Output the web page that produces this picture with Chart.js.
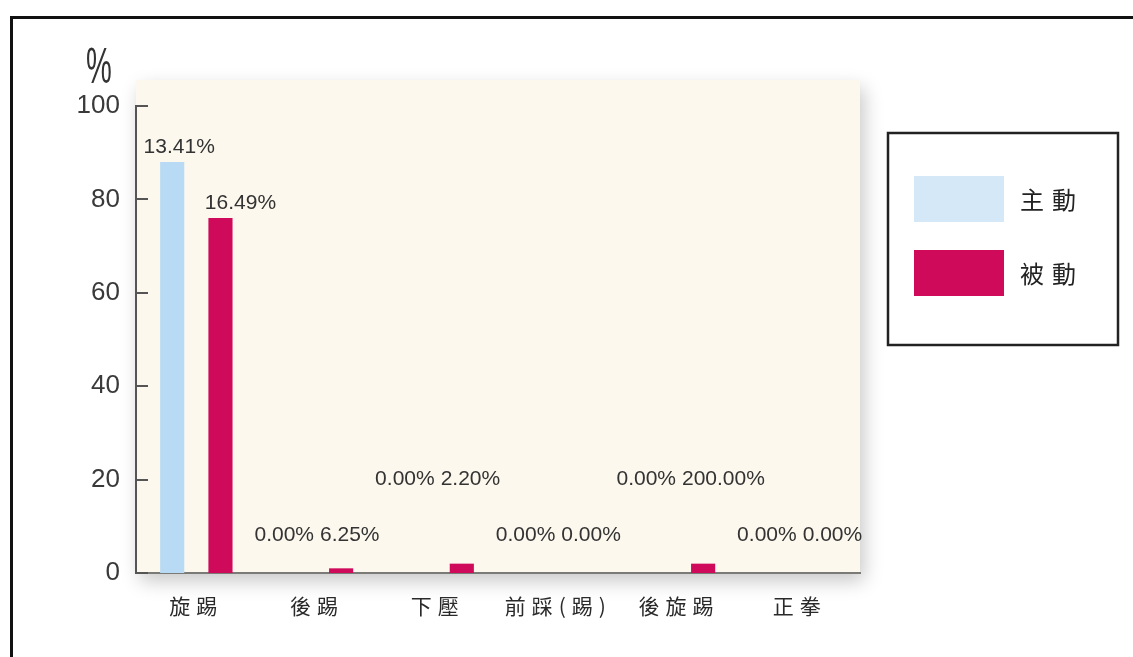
<!DOCTYPE html>
<html>
<head>
<meta charset="utf-8">
<script src="https://cdn.jsdelivr.net/npm/chart.js@4.4.0/dist/chart.umd.min.js"></script>
<style>
html, body { margin: 0; padding: 0; background: #fff; overflow: hidden; }
#frame { position: absolute; left: 10px; top: 16px; width: 1140px; height: 660px; border-top: 3px solid #111; border-left: 3px solid #111; }
#wrap { position: absolute; left: 0; top: 0; width: 1133px; height: 657px; }
</style>
</head>
<body>
<div id="frame"></div>
<div id="wrap"><canvas id="myChart"></canvas></div>
<script>
var categories = ['旋踢', '後踢', '下壓', '前踩(踢)', '後旋踢', '正拳'];
var seriesNames = ['主動', '被動'];
var activeValues = [88, 0, 0, 0, 0, 0];
var passiveValues = [76, 1, 2, 0, 2, 0];
var activeLabels = ['13.41%', '0.00%', '0.00%', '0.00%', '0.00%', '0.00%'];
var passiveLabels = ['16.49%', '6.25%', '2.20%', '0.00%', '200.00%', '0.00%'];
var yMin = 0, yMax = 100, yStep = 20;
var unitLabel = '%';

var blue = '#b9daf4';
var red = '#cf0a5b';

// cream paper behind the plot + inner ticks
var paperPlugin = {
    id: 'paper',
    beforeDraw: function (chart) {
        var ctx = chart.ctx, a = chart.chartArea;
        ctx.save();
        ctx.shadowColor = 'rgba(0,0,0,0.22)';
        ctx.shadowBlur = 18;
        ctx.shadowOffsetX = 4;
        ctx.shadowOffsetY = 8;
        ctx.fillStyle = '#fcf8ee';
        ctx.fillRect(a.left, a.top - 26, a.right - a.left, a.bottom - a.top + 26);
        ctx.restore();
        ctx.letterSpacing = '6px';   // for the category labels
    },
    beforeDatasetsDraw: function (chart) {
        var ctx = chart.ctx, y = chart.scales.y;
        ctx.letterSpacing = '0px';
        ctx.save();
        ctx.strokeStyle = '#555';
        ctx.lineWidth = 2;
        y.ticks.forEach(function (t) {
            var py = Math.round(y.getPixelForValue(t.value));
            ctx.beginPath();
            ctx.moveTo(y.right, py);
            ctx.lineTo(y.right + 12, py);
            ctx.stroke();
        });
        ctx.restore();
    },
    afterDatasetsDraw: function (chart) {
        var ctx = chart.ctx, xs = chart.scales.x, ys = chart.scales.y;
        var m0 = chart.getDatasetMeta(0).data, m1 = chart.getDatasetMeta(1).data;
        ctx.save();
        ctx.font = '21px "Liberation Sans", Arial, sans-serif';
        ctx.fillStyle = '#333';
        for (var i = 0; i < categories.length; i++) {
            if (Math.max(activeValues[i], passiveValues[i]) > 20) {
                ctx.textAlign = 'center';
                ctx.textBaseline = 'bottom';
                ctx.fillText(activeLabels[i], m0[i].x + 7, m0[i].y - 4);
                ctx.fillText(passiveLabels[i], m1[i].x + 20, m1[i].y - 4);
            } else {
                // labels of the small bars are staggered on two levels
                var lvl = (i % 2 === 1) ? 8 : 20;
                var py = ys.getPixelForValue(lvl);
                var cx = xs.getPixelForValue(i);
                ctx.textBaseline = 'middle';
                ctx.textAlign = 'right';
                ctx.fillText(activeLabels[i], cx - 3, py);
                ctx.textAlign = 'left';
                ctx.fillText(passiveLabels[i], cx + 3, py);
            }
        }
        ctx.restore();
    },
    afterDraw: function (chart) {
        var ctx = chart.ctx, a = chart.chartArea;
        // unit above the y axis
        ctx.save();
        ctx.fillStyle = '#333';
        ctx.font = '50px "Liberation Sans", Arial, sans-serif';
        ctx.textAlign = 'center';
        ctx.textBaseline = 'alphabetic';
        ctx.translate(a.left - 37, a.top - 23);
        ctx.scale(0.58, 1);
        ctx.fillText(unitLabel, 0, 0);
        ctx.restore();

        // framed legend on the right
        var lx = a.right + 28, ly = a.top + 27, lw = 230, lh = 212;
        ctx.save();
        ctx.fillStyle = '#fff';
        ctx.fillRect(lx, ly, lw, lh);
        ctx.strokeStyle = '#222';
        ctx.lineWidth = 2.5;
        ctx.strokeRect(lx, ly, lw, lh);
        ctx.font = '24px "Noto Sans CJK TC", sans-serif';
        ctx.letterSpacing = '8px';
        ctx.textAlign = 'left';
        ctx.textBaseline = 'middle';
        chart.data.datasets.forEach(function (ds, k) {
            var sy = ly + 43 + k * 74;
            ctx.fillStyle = k === 0 ? '#d4e8f8' : ds.backgroundColor;
            ctx.fillRect(lx + 26, sy, 90, 46);
            ctx.fillStyle = '#222';
            ctx.fillText(ds.label, lx + 132, sy + 24);
        });
        ctx.restore();
    }
};

var ctx = document.getElementById('myChart');
var myChart = new Chart(ctx, {
    type: 'bar',
    data: {
        labels: categories,
        datasets: [{
            label: seriesNames[0],
            data: activeValues,
            backgroundColor: blue,
            borderWidth: 0,
            categoryPercentage: 0.8,
            barPercentage: 0.5
        }, {
            label: seriesNames[1],
            data: passiveValues,
            backgroundColor: red,
            borderWidth: 0,
            categoryPercentage: 0.8,
            barPercentage: 0.5
        }]
    },
    options: {
        responsive: true,
        maintainAspectRatio: false,
        animation: false,
        layout: { padding: { top: 106, right: 273, bottom: 0, left: 0 } },
        plugins: {
            legend: { display: false },
            tooltip: { enabled: false }
        },
        scales: {
            x: {
                grid: { display: false },
                border: { display: true, color: '#7a7a76', width: 2 },
                ticks: {
                    color: '#2a2a2a',
                    padding: 12,
                    font: { family: '"Noto Sans CJK TC", sans-serif', size: 21 }
                },
                afterFit: function (s) { s.height = 84; }
            },
            y: {
                min: yMin,
                max: yMax,
                grid: { display: false },
                border: { display: true, color: '#555', width: 2 },
                ticks: {
                    stepSize: yStep,
                    color: '#3a3a3a',
                    padding: 8,
                    z: 1,
                    font: { family: '"Liberation Sans", Arial, sans-serif', size: 26 }
                },
                afterFit: function (s) { s.width = 136; }
            }
        }
    },
    plugins: [paperPlugin]
});
</script>
</body>
</html>
